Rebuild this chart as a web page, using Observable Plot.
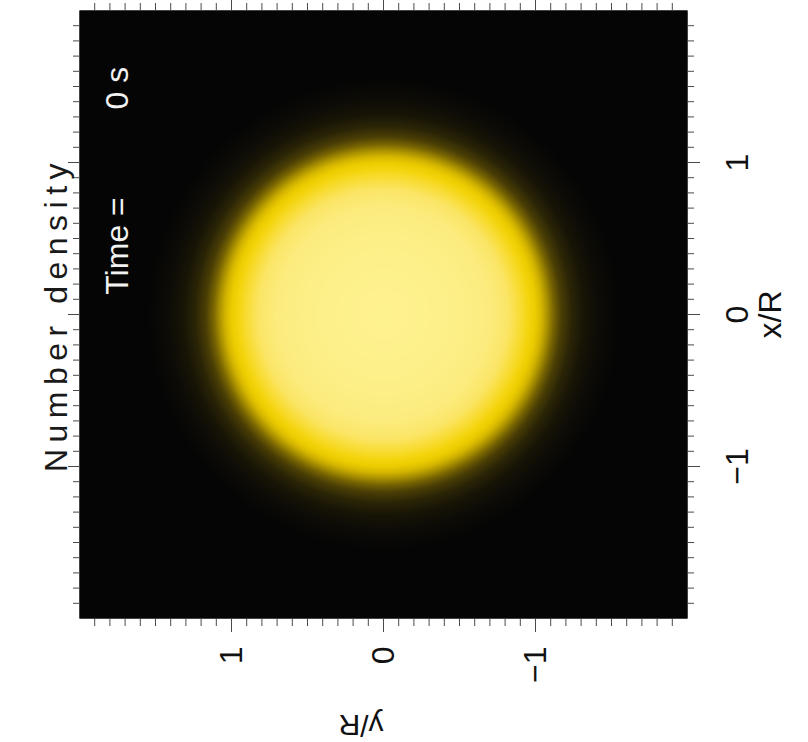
<!DOCTYPE html>
<html><head><meta charset="utf-8">
<script src="https://cdn.jsdelivr.net/npm/d3@7"></script>
<script src="https://cdn.jsdelivr.net/npm/@observablehq/plot@0.6"></script>
<style>
html,body{margin:0;padding:0;background:#fff;}
#wrap{position:relative;width:808px;height:742px;overflow:hidden;}
#wrap svg{position:absolute;left:0;top:0;transform-origin:0 0;transform:translate(0,742px) rotate(-90deg);}
</style></head><body><div id="wrap"></div>
<script>
// Radial number-density profile (radius in R -> colour)
const profileRadius = [0, 0.4, 0.7, 0.82, 0.9, 0.96, 1.0, 1.04, 1.08, 1.12, 1.17, 1.24, 1.32, 1.42, 1.55];
const profileColor = ["#fef290", "#fdf08a", "#fcec7e", "#fbe566", "#f8dc34", "#f3d40c", "#ebcc00", "#d4b500", "#a88f00", "#776402", "#4a3e05", "#2a2406", "#171406", "#0c0b06", "#050505"];
const majorTicks = [-1, 0, 1];
const minorTicks = [-1.9,-1.8,-1.7,-1.6,-1.5,-1.4,-1.3,-1.2,-1.1,-1,-0.9,-0.8,-0.7,-0.6,-0.5,-0.4,-0.3,-0.2,-0.1,0,0.1,0.2,0.3,0.4,0.5,0.6,0.7,0.8,0.9,1,1.1,1.2,1.3,1.4,1.5,1.6,1.7,1.8,1.9];
const titleText = "Number density";
const timeLabel = "Time =";
const timeValue = "0 s";
const xLabel = "x/R";
const yLabel = "y/R";

const tickColor = "#4a4a4a";
const fs = 32;
const fmt = d => (d < 0 ? "\u2212" : "") + Math.abs(d);

const plot = Plot.plot({
  width: 742, height: 808,
  marginTop: 79, marginBottom: 121, marginLeft: 123, marginRight: 11,
  x: {domain: [-2, 2]},
  y: {domain: [-2, 2]},
  color: {type: "linear", domain: profileRadius, range: profileColor, clamp: true},
  style: {fontFamily: "'Liberation Sans', Arial, sans-serif", background: "#fff", overflow: "visible"},
  marks: [
    Plot.frame({fill: "#050505"}),
    Plot.raster({fill: (x, y) => Math.hypot(x, y), x1: -2, x2: 2, y1: -2, y2: 2}),
    Plot.axisX({anchor: "bottom", ticks: minorTicks, tickSize: 7, tickFormat: () => "", label: null, stroke: tickColor}),
    Plot.axisX({anchor: "top", ticks: minorTicks, tickSize: 7, tickFormat: () => "", label: null, stroke: tickColor}),
    Plot.axisY({anchor: "left", ticks: minorTicks, tickSize: 7, tickFormat: () => "", label: null, stroke: tickColor}),
    Plot.axisY({anchor: "right", ticks: minorTicks, tickSize: 7, tickFormat: () => "", label: null, stroke: tickColor}),
    Plot.axisX({anchor: "bottom", ticks: majorTicks, tickSize: 13, tickPadding: 25, tickFormat: fmt, fontSize: fs, label: null, stroke: tickColor, fill: "#111"}),
    Plot.axisX({anchor: "top", ticks: majorTicks, tickSize: 12, tickFormat: () => "", label: null, stroke: tickColor}),
    Plot.axisY({anchor: "left", ticks: majorTicks, tickSize: 13, tickPadding: 15, tickFormat: fmt, fontSize: fs, label: null, stroke: tickColor, fill: "#111"}),
    Plot.axisY({anchor: "right", ticks: majorTicks, tickSize: 12, tickFormat: () => "", label: null, stroke: tickColor}),
    Plot.text([titleText], {frameAnchor: "top", dy: -35, fontSize: fs, fill: "#1a1a1a"}),
    Plot.text([timeLabel], {x: 0.13, frameAnchor: "top", dy: 26, textAnchor: "start", fontSize: fs, fill: "#f2f2f2"}),
    Plot.text([timeValue], {x: 1.63, frameAnchor: "top", dy: 26, textAnchor: "end", fontSize: fs, fill: "#f2f2f2"}),
    Plot.text([xLabel], {frameAnchor: "bottom", dy: 93, fontSize: fs, fill: "#111"}),
    Plot.text([yLabel], {frameAnchor: "left", dx: -106, rotate: -90, fontSize: 30, fill: "#111"})
  ]
});
plot.querySelectorAll("text").forEach(t => {
  if (t.textContent === titleText) t.style.letterSpacing = "6.5px";
});
document.getElementById("wrap").appendChild(plot);
</script></body></html>
